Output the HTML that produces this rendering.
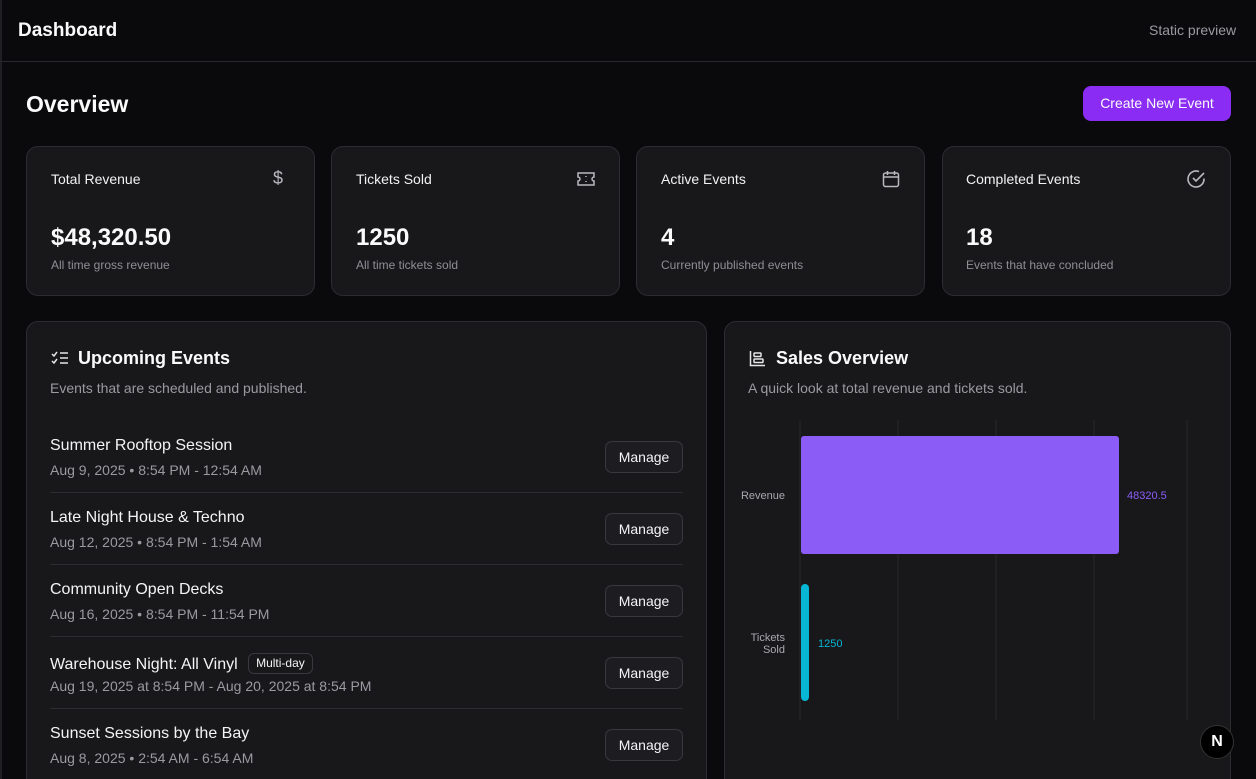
<!DOCTYPE html>
<html><head><meta charset="utf-8"><style>
*{box-sizing:border-box;margin:0;padding:0}
html,body{width:1256px;height:779px;overflow:hidden}
body{background:#0a0a0c;font-family:"Liberation Sans",sans-serif;color:#fafafa;position:relative}
.a{position:absolute}
.card{position:absolute;background:#18181b;border:1px solid #2c2c31;border-radius:12px}
.t{font-size:14px;color:#f2f2f2}
.big{font-size:24px;font-weight:bold}
.sub{font-size:12px;color:#8e8e95}
.ev{position:absolute;left:50px;width:633px;height:72px}
.ev .n{position:absolute;left:0;top:0;font-size:16px;color:#f4f4f5}
.ev .d{position:absolute;left:0;top:25px;font-size:14px;color:#9a9aa0}
.ev .ln{position:absolute;left:0;top:55px;width:633px;height:1px;background:#2c2c31}
.btn{position:absolute;right:0;top:4px;width:78px;height:32px;border:1px solid #38383e;border-radius:7px;background:#1d1d21;font-size:14px;color:#f4f4f5;text-align:center;line-height:30px}
.ico{position:absolute;color:#b8b8be;font-size:18px}
</style></head><body>
<div class="a" style="left:0;top:0;width:2px;height:779px;background:#202024"></div>
<div class="a" style="left:0;top:61px;width:1256px;height:1px;background:#2a2a2e"></div>
<div class="a" style="left:18px;top:20px;font-size:19px;font-weight:bold">Dashboard</div>
<div class="a" style="left:1149px;top:22px;font-size:14px;color:#9a9aa0">Static preview</div>
<div class="a" style="left:26px;top:91px;font-size:23px;font-weight:bold">Overview</div>
<div class="a" style="left:1083px;top:86px;width:148px;height:35px;border-radius:8px;font-size:14px;text-align:center;line-height:35px;background:#8b2cf5">Create New Event</div>

<div class="card" style="left:26px;top:146px;width:289px;height:150px"></div>
<div class="card" style="left:331px;top:146px;width:289px;height:150px"></div>
<div class="card" style="left:636px;top:146px;width:289px;height:150px"></div>
<div class="card" style="left:942px;top:146px;width:289px;height:150px"></div>

<div class="a t" style="left:51px;top:171px">Total Revenue</div>
<div class="a t" style="left:356px;top:171px">Tickets Sold</div>
<div class="a t" style="left:661px;top:171px">Active Events</div>
<div class="a t" style="left:966px;top:171px">Completed Events</div>
<div class="ico" style="left:273px;top:168px">$</div>
<svg class="a" style="left:576px;top:171px" width="20" height="16" viewBox="0 0 20 16" fill="none" stroke="#b8b8be" stroke-width="1.5"><path d="M2 2h16v4a2 2 0 0 0 0 4v4H2v-4a2 2 0 0 0 0-4z"/><path d="M10 5v1M10 10v1"/></svg>
<svg class="a" style="left:882px;top:170px" width="18" height="18" viewBox="0 0 18 18" fill="none" stroke="#b8b8be" stroke-width="1.5"><rect x="1.5" y="3" width="15" height="13.5" rx="2"/><path d="M1.5 7h15M5.5 1v4M12.5 1v4"/></svg>
<svg class="a" style="left:1186px;top:169px" width="20" height="20" viewBox="0 0 20 20" fill="none" stroke="#b8b8be" stroke-width="1.6"><path d="M18 9.5A8 8 0 1 1 13 2.6"/><path d="M7 9l3 3 8-8"/></svg>

<div class="a big" style="left:51px;top:224px">$48,320.50</div>
<div class="a big" style="left:356px;top:224px">1250</div>
<div class="a big" style="left:661px;top:224px">4</div>
<div class="a big" style="left:966px;top:224px">18</div>
<div class="a sub" style="left:51px;top:258px">All time gross revenue</div>
<div class="a sub" style="left:356px;top:258px">All time tickets sold</div>
<div class="a sub" style="left:661px;top:258px">Currently published events</div>
<div class="a sub" style="left:966px;top:258px">Events that have concluded</div>

<div class="card" style="left:26px;top:321px;width:681px;height:480px"></div>
<div class="card" style="left:724px;top:321px;width:507px;height:480px"></div>

<svg class="a" style="left:51px;top:351px" width="18" height="14" viewBox="0 0 18 14" fill="none" stroke="#e6e6e6" stroke-width="1.5"><path d="M1 3l2 2 3-4M1 10l2 2 3-4M9 2h8M9 7h8M9 12h8"/></svg>
<div class="a" style="left:78px;top:348px;font-size:18px;font-weight:bold">Upcoming Events</div>
<div class="a" style="left:50px;top:380px;font-size:14px;color:#9a9aa0">Events that are scheduled and published.</div>

<div class="ev" style="top:437px"><div class="n">Summer Rooftop Session</div><div class="d">Aug 9, 2025 • 8:54 PM - 12:54 AM</div><div class="btn">Manage</div><div class="ln"></div></div>
<div class="ev" style="top:509px"><div class="n">Late Night House &amp; Techno</div><div class="d">Aug 12, 2025 • 8:54 PM - 1:54 AM</div><div class="btn">Manage</div><div class="ln"></div></div>
<div class="ev" style="top:581px"><div class="n">Community Open Decks</div><div class="d">Aug 16, 2025 • 8:54 PM - 11:54 PM</div><div class="btn">Manage</div><div class="ln"></div></div>
<div class="ev" style="top:653px"><div class="n">Warehouse Night: All Vinyl <span style="display:inline-block;margin-left:6px;padding:0 7px;height:21px;line-height:19px;border:1px solid #38383e;border-radius:6px;font-size:12px;vertical-align:2px">Multi-day</span></div><div class="d">Aug 19, 2025 at 8:54 PM - Aug 20, 2025 at 8:54 PM</div><div class="btn">Manage</div><div class="ln"></div></div>
<div class="ev" style="top:725px"><div class="n">Sunset Sessions by the Bay</div><div class="d">Aug 8, 2025 • 2:54 AM - 6:54 AM</div><div class="btn">Manage</div></div>

<svg class="a" style="left:749px;top:350px" width="17" height="17" viewBox="0 0 17 17" fill="none" stroke="#e6e6e6" stroke-width="1.5"><path d="M1.5 1v14.5H16"/><rect x="5" y="3" width="7" height="3.5" rx="0.8"/><rect x="5" y="9" width="9" height="3.5" rx="0.8"/></svg>
<div class="a" style="left:776px;top:348px;font-size:18px;font-weight:bold">Sales Overview</div>
<div class="a" style="left:748px;top:380px;font-size:14px;color:#9a9aa0">A quick look at total revenue and tickets sold.</div>

<svg class="a" style="left:724px;top:400px" width="500" height="340">
<g stroke="#222226" stroke-width="1.5"><line x1="76" y1="20" x2="76" y2="320"/><line x1="174" y1="20" x2="174" y2="320"/><line x1="272" y1="20" x2="272" y2="320"/><line x1="370" y1="20" x2="370" y2="320"/><line x1="463" y1="20" x2="463" y2="320"/></g>
<rect x="77" y="36" width="318" height="118" rx="3" fill="#8b5cf6"/>
<rect x="77" y="184" width="8" height="117" rx="4" fill="#06b6d4"/>
<text x="61" y="99" text-anchor="end" font-size="11" fill="#a8a8ae" font-family="Liberation Sans">Revenue</text>
<text x="61" y="241" text-anchor="end" font-size="11" fill="#a8a8ae" font-family="Liberation Sans">Tickets</text>
<text x="61" y="253" text-anchor="end" font-size="11" fill="#a8a8ae" font-family="Liberation Sans">Sold</text>
<text x="403" y="99" font-size="11" fill="#8b5cf6" font-family="Liberation Sans">48320.5</text>
<text x="94" y="247" font-size="11" fill="#06b6d4" font-family="Liberation Sans">1250</text>
</svg>
<div class="a" style="left:1200px;top:725px;width:34px;height:34px;border-radius:50%;background:#000;border:1px solid #333;color:#fff;font-size:16px;font-weight:bold;text-align:center;line-height:32px">N</div>
</body></html>
